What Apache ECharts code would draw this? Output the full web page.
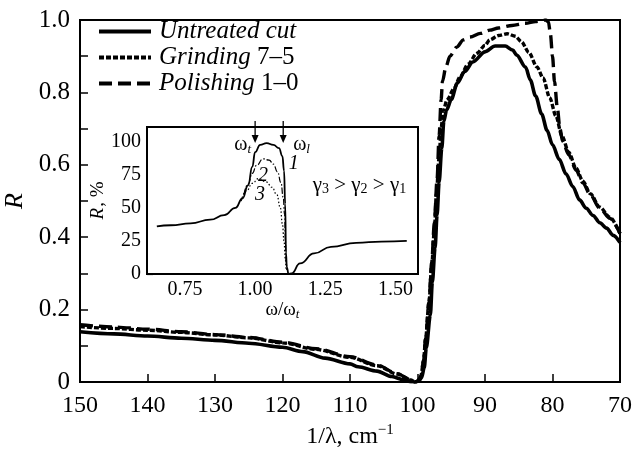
<!DOCTYPE html>
<html><head><meta charset="utf-8">
<script src="https://cdn.jsdelivr.net/npm/echarts@6/dist/echarts.min.js"></script>
<style>html,body{margin:0;padding:0;background:#fff}#c{width:634px;height:450px}</style>
</head><body><div id="c"></div>
<script>
// Main chart: wavenumber 1/λ (cm^-1) and reflectance R
const untreatedK = [150,145,140,135,130,125,120,117,113.7,110,108.8,106,103.8,102,101,100.3,99.8,99.4,99,98.7,98.1,97.8,97.4,97.1,96.8,96.4,96.1,95.7,95,94.1,93,91.8,90,88.5,87,85.9,85.3,84,83.3,82.5,81.6,80.8,80,79,78,77,76,75,74,73,72,71,70];
const untreatedR = [0.139,0.133,0.127,0.121,0.115,0.107,0.096,0.084,0.066,0.05,0.042,0.03,0.015,0.006,0.001,0,0.003,0.012,0.04,0.094,0.185,0.276,0.37,0.461,0.552,0.646,0.72,0.751,0.78,0.826,0.858,0.884,0.912,0.928,0.928,0.917,0.903,0.87,0.835,0.79,0.74,0.695,0.655,0.615,0.575,0.54,0.503,0.48,0.46,0.44,0.425,0.405,0.385];
const grindingK = [150,145,140,135,130,125,120,115,110,106,103,101,100.4,100,99.5,99.1,98.8,98.3,97.9,97.5,97.2,96.8,96.5,96.2,95.6,94.6,93.7,92.5,91.2,90,89.3,88,86.7,85.5,84.6,83.5,82.3,81.4,80.4,79.5,78.6,77.6,76.5,75.5,74.4,73,71.5,70];
const grindingR = [0.153,0.148,0.143,0.137,0.13,0.122,0.108,0.09,0.068,0.045,0.022,0.006,0,0.002,0.015,0.06,0.12,0.22,0.32,0.42,0.52,0.62,0.7,0.75,0.78,0.81,0.843,0.878,0.908,0.93,0.945,0.957,0.962,0.955,0.94,0.91,0.87,0.84,0.785,0.735,0.68,0.635,0.59,0.555,0.52,0.483,0.455,0.41];
const polishingK = [150,145,140,135,130,125,120,115,110,106,103,101,100.4,100,99.5,99.1,98.8,98.3,97.9,97.5,97.1,96.8,96.5,96.3,95.8,95.2,94.2,93.2,92.2,90.7,89.3,88,86,84,82.5,81,80.6,80.3,80,79.7,79.3,78.9,78.5,77.6,76.5,75.5,74.4,73,71.5,70];
const polishingR = [0.158,0.152,0.146,0.139,0.131,0.123,0.11,0.092,0.07,0.047,0.023,0.006,0,0.002,0.015,0.06,0.12,0.22,0.33,0.44,0.56,0.68,0.78,0.83,0.87,0.9,0.925,0.945,0.953,0.963,0.972,0.978,0.985,0.991,0.996,1.0,0.995,0.96,0.9,0.83,0.76,0.7,0.665,0.628,0.585,0.55,0.517,0.48,0.452,0.41];
const seriesNames = ['Untreated cut','Grinding 7–5','Polishing 1–0'];

// Inset: ω/ωt and R, %
const c1U = [0.65,0.70,0.77,0.84,0.89,0.93,0.955,0.975,0.99,1.0,1.018,1.041,1.065,1.085,1.097,1.103,1.107,1.11,1.113,1.119,1.13,1.16,1.21,1.27,1.36,1.45,1.54];
const c1R = [36,36.8,38.3,41,44.5,50,57,67,81,92,97.5,98.8,97.5,95,89,78,53,15.5,5,0,0.5,8,15.5,20.5,23.5,24.5,25];
const c2U = [0.96,0.975,0.99,1.005,1.029,1.05,1.065,1.08,1.092,1.1,1.105,1.108,1.11,1.113];
const c2R = [60,68,76,82,87,86,83,77,69,58,45,25,10,3];
const c3U = [0.95,0.97,0.99,1.012,1.04,1.06,1.077,1.09,1.097,1.103,1.107,1.11];
const c3R = [55,63,68.5,72,69.5,65.5,60,50,38,25,12,4];
const insetXTicks = [0.75,1.0,1.25,1.5];
const insetYTicks = [0,25,50,75,100];

const zip = (a,b) => a.map((v,i)=>[v,b[i]]);
const FONT = '"Liberation Serif","Times New Roman",serif';
const chart = echarts.init(document.getElementById('c'), null, {renderer:'canvas'});

const lineBase = {type:'line', showSymbol:false, symbol:'none', smooth:0.3, smoothMonotone:'x', animation:false};

chart.setOption({
  backgroundColor:'#fff',
  animation:false,
  textStyle:{fontFamily:FONT, color:'#000'},
  grid:[
    {left:80, right:14, top:20, bottom:68, containLabel:false, outerBoundsMode:'none', show:true, borderColor:'#000', borderWidth:2, backgroundColor:'transparent'},
    {left:147, right:216, top:127, bottom:176, containLabel:false, outerBoundsMode:'none', show:true, borderColor:'#000', borderWidth:2, backgroundColor:'#fff', z:5}
  ],
  legend:{
    orient:'vertical', left:97, top:19, padding:0, itemWidth:52, itemHeight:14, itemGap:1,
    data:seriesNames,
    itemStyle:{opacity:0, borderWidth:0},
    lineStyle:{width:4},
    formatter:(n)=>{
      if(n==='Untreated cut') return '{i|Untreated cut}';
      const p = n.split(' ');
      return '{i|'+p[0]+'} {n|'+p[1]+'}';
    },
    textStyle:{fontFamily:FONT, fontSize:25, color:'#000', lineHeight:24, padding:[0,0,0,3],
      rich:{i:{fontFamily:FONT,fontStyle:'italic',fontSize:25,color:'#000',lineHeight:24},
            n:{fontFamily:FONT,fontSize:25,color:'#000',lineHeight:24}}}
  },
  xAxis:[
    {gridIndex:0, type:'value', inverse:true, min:70, max:150, interval:10,
     axisLine:{lineStyle:{color:'#000',width:2}},
     axisTick:{inside:true,length:8,lineStyle:{color:'#000',width:1.5}},
     axisLabel:{fontFamily:FONT,fontSize:24,color:'#000',margin:12},
     splitLine:{show:false},
     name:'{a|1/λ, cm}{s|−1}', nameLocation:'middle', nameGap:36,
     nameTextStyle:{rich:{a:{fontFamily:FONT,fontSize:24,color:'#000',lineHeight:28},s:{fontFamily:FONT,fontSize:15,color:'#000',verticalAlign:'top',lineHeight:16}}}},
    {gridIndex:1, type:'value', min:0.615, max:1.58,
     axisLine:{lineStyle:{color:'#000',width:2}},
     axisTick:{inside:true,length:6,customValues:insetXTicks,lineStyle:{color:'#000',width:1.2}},
     axisLabel:{fontFamily:FONT,fontSize:20,color:'#000',margin:6,customValues:insetXTicks,formatter:(v)=>v.toFixed(2)},
     splitLine:{show:false},
     name:'{a|ω/ω}{s|t}', nameLocation:'middle', nameGap:23,
     nameTextStyle:{rich:{a:{fontFamily:FONT,fontSize:19,color:'#000'},s:{fontFamily:FONT,fontSize:13,fontStyle:'italic',color:'#000',verticalAlign:'bottom',padding:[8,0,0,0]}}}}
  ],
  yAxis:[
    {gridIndex:0, type:'value', min:0, max:1, interval:0.1,
     axisLine:{lineStyle:{color:'#000',width:2}},
     axisTick:{inside:true,length:8,lineStyle:{color:'#000',width:1.5}},
     axisLabel:{fontFamily:FONT,fontSize:25,color:'#000',margin:10,
       formatter:(v)=>{const k=Math.round(v*10); if(k%2) return ''; return k===0?'0':v.toFixed(1);}},
     splitLine:{show:false},
     name:'R', nameLocation:'middle', nameGap:44, nameRotate:90,
     nameTextStyle:{fontFamily:FONT,fontSize:26,fontStyle:'italic',color:'#000'}},
    {gridIndex:1, type:'value', min:0, max:111,
     axisLine:{lineStyle:{color:'#000',width:2}},
     axisTick:{inside:true,length:6,customValues:insetYTicks,lineStyle:{color:'#000',width:1.2}},
     axisLabel:{fontFamily:FONT,fontSize:20,color:'#000',margin:6,customValues:insetYTicks},
     splitLine:{show:false},
     name:'{i|R}{n|, %}', nameLocation:'middle', nameGap:35, nameRotate:90,
     nameTextStyle:{rich:{i:{fontFamily:FONT,fontSize:19,fontStyle:'italic',color:'#000'},n:{fontFamily:FONT,fontSize:19,color:'#000',padding:[0,0,0,1]}}}}
  ],
  series:[
    Object.assign({}, lineBase, {name:seriesNames[0], xAxisIndex:0, yAxisIndex:0, data:zip(untreatedK,untreatedR),
      lineStyle:{color:'#000',width:3.6,type:'solid'}, itemStyle:{color:'#000'}, z:3}),
    Object.assign({}, lineBase, {name:seriesNames[1], xAxisIndex:0, yAxisIndex:0, data:zip(grindingK,grindingR),
      lineStyle:{color:'#000',width:3.4,type:[5,2]}, itemStyle:{color:'#000'}, z:2}),
    Object.assign({}, lineBase, {name:seriesNames[2], xAxisIndex:0, yAxisIndex:0, data:zip(polishingK,polishingR),
      lineStyle:{color:'#000',width:3.4,type:[13,6]}, itemStyle:{color:'#000'}, z:2}),
    Object.assign({}, lineBase, {name:'1', xAxisIndex:1, yAxisIndex:1, data:zip(c1U,c1R), smooth:0.5,
      lineStyle:{color:'#000',width:1.8,type:'solid'}, z:6}),
    Object.assign({}, lineBase, {name:'2', xAxisIndex:1, yAxisIndex:1, data:zip(c2U,c2R), smooth:0.5,
      lineStyle:{color:'#000',width:1.2,type:[6,2,1.5,2]}, z:6}),
    Object.assign({}, lineBase, {name:'3', xAxisIndex:1, yAxisIndex:1, data:zip(c3U,c3R), smooth:0.5,
      lineStyle:{color:'#000',width:1.2,type:[1.5,2]}, z:6})
  ]
});

// Inset annotations positioned from data coordinates
const P = (u,r) => chart.convertToPixel({xAxisIndex:1,yAxisIndex:1},[u,r]);
const pT = P(1.0, 100), pL = P(1.1, 100);
const insetTop = P(1.0, 111)[1];
function arrow(x){
  return [
    {type:'line', z:20, shape:{x1:x,y1:insetTop-6,x2:x,y2:insetTop+10}, style:{stroke:'#000',lineWidth:1.3}},
    {type:'polygon', z:20, shape:{points:[[x-3.5,insetTop+8],[x+3.5,insetTop+8],[x,insetTop+16]]}, style:{fill:'#000'}}
  ];
}
const txt = (x,y,text,rich,align) => ({type:'text', z:20, x:x, y:y,
  style:{text:text, rich:rich, align:align||'left', verticalAlign:'middle', fontFamily:FONT, fontSize:20, fill:'#000'}});
const R1 = {a:{fontFamily:FONT,fontSize:20,fill:'#000'}, s:{fontFamily:FONT,fontSize:13,fontStyle:'italic',fill:'#000',verticalAlign:'bottom',padding:[9,0,0,0]},
            i:{fontFamily:FONT,fontSize:20,fontStyle:'italic',fill:'#000'},
            b:{fontFamily:FONT,fontSize:21,fill:'#000'}, g:{fontFamily:FONT,fontSize:14,fill:'#000',padding:[9,0,0,0],verticalAlign:'bottom'}};
const p1 = P(1.12, 83), p2 = P(1.01, 74), p3 = P(1.0, 60), pg = P(1.205, 67);
chart.setOption({graphic:[].concat(
  arrow(pT[0]), arrow(pL[0]),
  [
    txt(pT[0]-4, insetTop+18, '{a|ω}{s|t}', R1, 'right'),
    txt(pL[0]+10, insetTop+18, '{a|ω}{s|l}', R1, 'left'),
    txt(p1[0], p1[1], '{i|1}', R1, 'left'),
    txt(p2[0], p2[1], '{i|2}', R1, 'left'),
    txt(p3[0], p3[1], '{i|3}', R1, 'left'),
    txt(pg[0], pg[1], '{b|γ}{g|3}{b| > γ}{g|2}{b| > γ}{g|1}', R1, 'left')
  ]
)});
</script></body></html>
